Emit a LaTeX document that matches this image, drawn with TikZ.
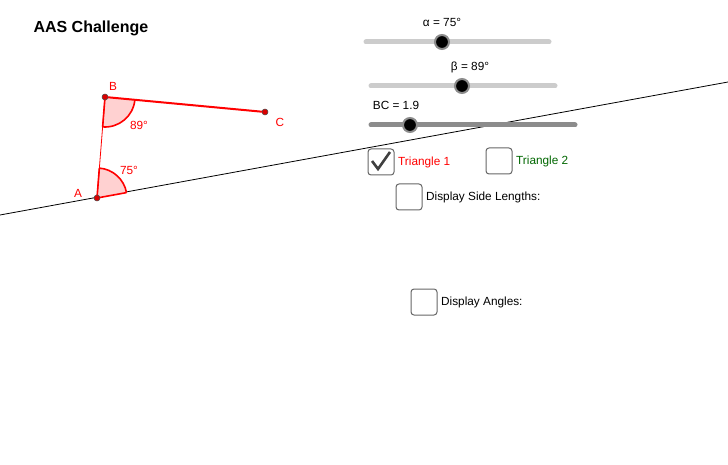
\documentclass[tikz,border=0pt]{standalone}
\usepackage{fontspec}
\setmainfont{Liberation Sans}
\begin{document}
\begin{tikzpicture}[x=1pt,y=-1pt,
  track/.style={line width=5pt,line cap=round,draw=black!20},
  knob/.style={circle,fill=black,draw=black!45,line width=2pt,inner sep=0pt,minimum size=14pt},
  cbox/.style={draw=black!60,line width=1pt,rounded corners=3pt,minimum size=26pt,inner sep=0pt},
  pt/.style={circle,fill=red!85!black,draw=black!70,line width=0.5pt,inner sep=0pt,minimum size=6pt},
  lbl/.style={font=\fontsize{11.8}{13}\selectfont,inner sep=1pt}]
\useasboundingbox (0,0) rectangle (728,465);
\coordinate (L1) at (0,215); \coordinate (L2) at (728,82);
\draw[line width=0.8pt] (L1) -- (L2);
\node[anchor=west,font=\bfseries\fontsize{16}{18}\selectfont] (title) at (30,28) {AAS Challenge};
% triangle
\coordinate (A) at (97,198); \coordinate (B) at (105,97); \coordinate (C) at (265,112);
\fill[red!18] (A) -- ++(-10.35:30) arc[start angle=-10.35,end angle=-85.5,radius=30] -- cycle;
\draw[red,line width=1.6pt] (A) ++(-10.35:30) arc[start angle=-10.35,end angle=-85.5,radius=30];
\fill[red!18] (B) -- ++(94.5:30) arc[start angle=94.5,end angle=5.4,radius=30] -- cycle;
\draw[red,line width=1.6pt] (B) ++(94.5:30) arc[start angle=94.5,end angle=5.4,radius=30];
\draw[red,line width=0.8pt] (A) -- (B);
\draw[red,line width=1.6pt] (A) -- ++(-10.35:30);
\draw[red,line width=1.6pt] (A) -- ++(-85.5:30);
\draw[red,line width=1.6pt] (B) -- ++(94.5:30);
\draw[red,line width=2pt] (B) -- (C);
\node[pt] (pA) at (A) {}; \node[pt] (pB) at (B) {}; \node[pt] (pC) at (C) {};
\node[lbl,text=red] (tA) at (78,193) {A};
\node[lbl,text=red] (tB) at (113,86) {B};
\node[lbl,text=red] (tC) at (280,122) {C};
\node[lbl,text=red] (a75) at (129,170) {75°};
\node[lbl,text=red] (b89) at (139,125) {89°};
% sliders
\draw[track] (366,42) -- (549,42);
\node[knob] (k1) at (442,42) {};
\node[lbl] (s1) at (442,22) {α = 75°};
\draw[track] (371,86) -- (555,86);
\node[knob] (k2) at (462,86) {};
\node[lbl] (s2) at (470,67) {β = 89°};
\draw[track,draw=black!45] (371,125) -- (575,125);
\node[knob] (k3) at (410,125) {};
\node[lbl] (s3) at (396,105) {BC = 1.9};
% checkboxes
\node[cbox] (c1) at (381,162) {};
\draw[black!75,line width=2.6pt] (372,161) -- (378,169) -- (390,152);
\node[lbl,anchor=west,text=red] (t1) at (397,162) {Triangle 1};
\node[cbox] (c2) at (499,161) {};
\node[lbl,anchor=west,text=green!40!black] (t2) at (515,161) {Triangle 2};
\node[cbox] (c3) at (409,197) {};
\node[lbl,anchor=west] (t3) at (425,197) {Display Side Lengths:};
\node[cbox] (c4) at (424,302) {};
\node[lbl,anchor=west] (t4) at (440,302) {Display Angles:};
\end{tikzpicture}
\end{document}
